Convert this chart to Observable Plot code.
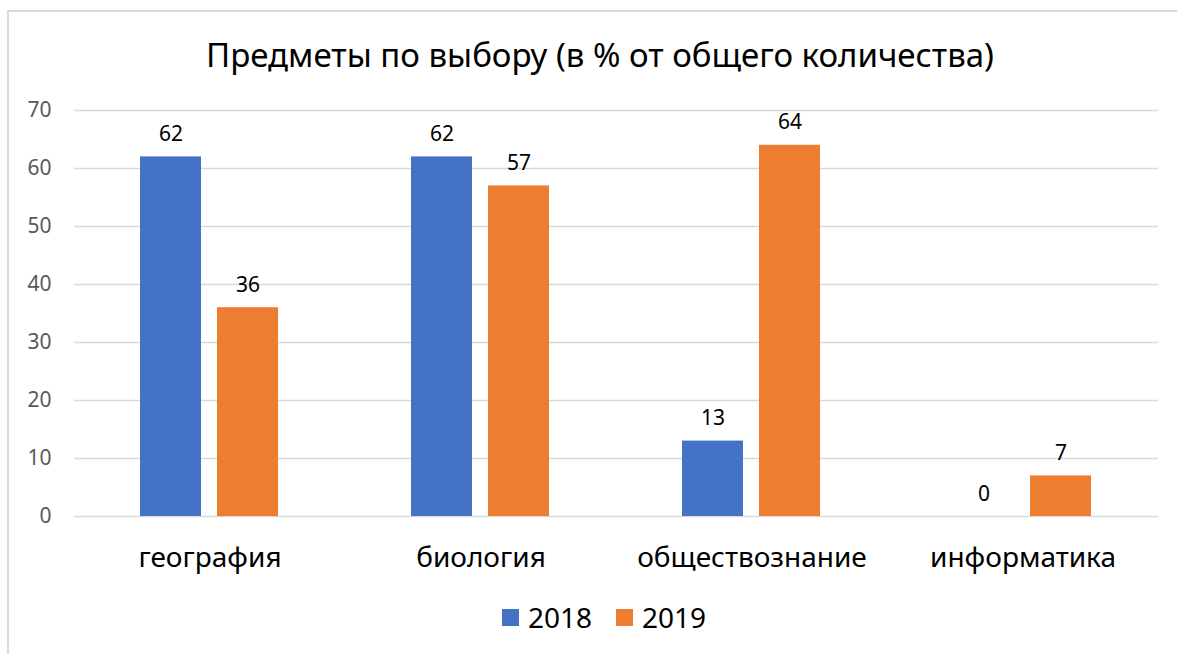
<!DOCTYPE html>
<html>
<head>
<meta charset="utf-8">
<script src="https://cdn.jsdelivr.net/npm/d3@7"></script>
<script src="https://cdn.jsdelivr.net/npm/@observablehq/plot@0.6"></script>
<style>
  html, body { margin: 0; padding: 0; background: #fff; }
  body { width: 1177px; height: 654px; position: relative; overflow: hidden; font-family: "Noto Sans", "Open Sans", sans-serif; }
  #frame { position: absolute; left: 7px; top: 10px; width: 1200px; height: 700px; border: 2px solid #d9d9d9; box-sizing: border-box; }
  #title { position: absolute; left: 0; top: 32px; width: 1200px; text-align: center; font-size: 33px; color: #000; }
  #chart { position: absolute; left: 0; top: 90px; }
  #legend { position: absolute; left: 0; top: 598px; width: 1208px; display: flex; justify-content: center; align-items: center; gap: 0; font-size: 28px; color: #000; }
  .item { display: flex; align-items: center; margin: 0 12px; }
  .sw { width: 17px; height: 17px; margin-right: 9px; }
</style>
</head>
<body>
<div id="frame"></div>
<div id="title">Предметы по выбору (в % от общего количества)</div>
<div id="chart"></div>
<div id="legend"></div>
<script>
const categories = ["география", "биология", "обществознание", "информатика"];
const years = ["2018", "2019"];
const values2018 = [62, 62, 13, 0];
const values2019 = [36, 57, 64, 7];
const yTicks = [0, 10, 20, 30, 40, 50, 60, 70];
const colors = ["#4472C4", "#ED7D31"];

const data = categories.flatMap((c, i) => [
  {category: c, year: years[0], value: values2018[i]},
  {category: c, year: years[1], value: values2019[i]}
]);

const chart = Plot.plot({
  width: 1177,
  height: 486,
  marginTop: 20,
  marginBottom: 60,
  marginLeft: 73,
  marginRight: 19,
  style: {fontFamily: "'Noto Sans', 'Open Sans', sans-serif", background: "transparent"},
  fx: {domain: categories, padding: 0, label: null},
  x: {domain: years, axis: null, paddingInner: 0.205, paddingOuter: 0.84},
  y: {domain: [0, 70], label: null},
  color: {domain: years, range: colors},
  marks: [
    Plot.gridY(yTicks, {stroke: "#d9d9d9", strokeOpacity: 1, strokeWidth: 1.5}),
    Plot.axisY(yTicks, {tickSize: 0, tickPadding: 23, fontSize: 21, color: "#595959", label: null}),
    Plot.axisFx({anchor: "bottom", tickSize: 0, tickPadding: 31, fontSize: 28, color: "#000", label: null}),
    Plot.barY(data, {fx: "category", x: "year", y: "value", fill: "year"}),
    Plot.text(data, {fx: "category", x: "year", y: "value", text: d => String(d.value), lineAnchor: "bottom", dy: -16, fontSize: 21, fill: "#000"})
  ]
});
document.getElementById("chart").appendChild(chart);

const legend = document.getElementById("legend");
years.forEach((y, i) => {
  const it = document.createElement("div");
  it.className = "item";
  const sw = document.createElement("div");
  sw.className = "sw";
  sw.style.background = colors[i];
  const t = document.createElement("span");
  t.textContent = y;
  it.appendChild(sw);
  it.appendChild(t);
  legend.appendChild(it);
});
</script>
</body>
</html>
